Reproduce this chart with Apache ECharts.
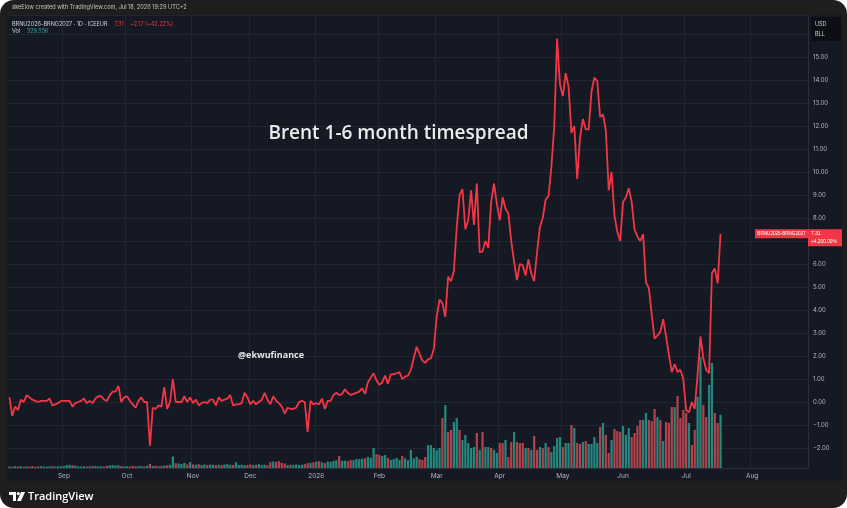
<!DOCTYPE html>
<html><head><meta charset="utf-8">
<script src="https://cdn.jsdelivr.net/npm/echarts@6/dist/echarts.min.js"></script>
<style>
html,body{margin:0;padding:0;background:#ffffff;}
#c{width:847px;height:508px;border-radius:14px;overflow:hidden;}
</style></head><body><div id="c"></div>
<script>
// ---- data ----
const symbolName = 'BRNU2026-BRNG2027';
const firstDate = '2025-08-05';
const paddingBars = 30;
const monthNames = ['2026','Feb','Mar','Apr','May','Jun','Jul','Aug','Sep','Oct','Nov','Dec'];

const spreadValues = [
0.2,-0.6,-0.2,-0.35,0.1,0,0.3,0.2,0.1,0.05,
0,0.05,0.05,0.05,0.15,-0.15,-0.1,-0.05,0.05,0.05,
0.05,0.05,-0.2,-0.05,0,0.05,0.15,-0.05,0.05,-0.05,
0.15,0.25,0.25,0.1,0.05,0.3,0.45,0.45,0.7,0,
0.2,0.25,0.05,-0.1,-0.25,0.05,0.2,0,0,-1.9,
-0.25,-0.3,-0.15,-0.2,0.65,-0.3,0,1.0,0,0,
0,0.25,0,0.2,-0.05,0.1,-0.15,-0.05,0,-0.05,
0.1,0.1,-0.15,0.2,0.05,0.1,0.15,0.3,-0.15,-0.1,
-0.1,-0.05,0.4,0.2,-0.1,0.05,-0.1,0,0.1,0.4,
0.1,-0.1,0.25,0.05,-0.05,-0.2,-0.5,-0.25,-0.3,-0.3,
-0.25,0,0.05,0,-1.3,0.05,-0.1,-0.05,-0.1,0.15,
-0.3,0.05,0.05,0.3,0.4,0.3,0.35,0.55,0.4,0.3,
0.35,0.4,0.45,0.6,0.35,0.85,1.05,1.25,0.95,0.75,
0.85,1.15,0.8,1.2,1.2,1.25,1.3,1.0,1.1,1.15,
1.4,1.9,2.4,2.1,1.8,1.7,1.85,1.9,2.3,3.7,
4.45,4.3,3.7,5.45,5.25,5.7,7.6,9.0,9.25,7.5,
7.9,9.2,7.7,9.5,6.5,6.55,7.0,6.7,8.7,9.5,
8.6,7.9,8.9,8.4,8.2,7.0,6.1,5.3,6.0,5.95,
5.5,6.2,5.6,5.25,6.5,7.6,8.0,8.8,8.95,10.2,
12.0,15.8,13.8,13.3,14.3,13.7,11.7,12.0,9.7,11.5,
12.3,11.85,11.85,13.5,14.1,13.95,12.4,12.5,11.8,9.2,
10.0,8.1,7.4,7.0,8.7,8.9,9.3,8.7,7.5,7.2,
7.0,7.3,5.2,4.95,3.8,2.75,2.9,3.05,3.6,2.85,
2.05,1.3,1.65,1.3,1.4,1.0,-0.35,-0.45,0,-0.3,
1.2,2.85,1.9,1.4,1.25,5.6,5.8,5.15,7.31
];

// volume in thousands
const volumeK = [
10,8,12,9,11,7,10,9,12,8,
10,11,9,8,10,12,9,11,10,12,
18,20,17,15,10,9,11,8,10,12,
12,10,11,9,14,16,18,15,17,12,
10,11,9,13,10,12,11,9,14,25,
12,14,10,13,15,16,20,72,30,28,
25,32,22,37,22,20,24,18,22,19,
21,20,18,20,18,22,24,20,19,36,
18,20,17,19,22,18,20,24,19,21,
18,36,40,38,42,32,28,18,20,19,
22,18,20,24,30,32,36,40,42,35,
30,40,38,44,48,74,44,46,42,50,
48,56,55,58,60,68,62,124,86,80,
74,80,62,50,55,62,50,75,60,48,
112,60,70,55,50,68,142,142,124,110,124,
310,390,223,236,285,310,236,174,205,155,
124,130,217,112,223,130,130,124,112,93,
155,155,174,68,161,223,161,155,155,124,
124,112,198,112,130,124,155,130,99,136,
186,192,130,155,155,266,248,155,149,161,
167,149,149,192,155,254,279,205,93,174,
242,229,223,260,205,248,192,217,260,298,
298,341,298,291,366,316,298,167,285,279,
378,378,446,310,360,341,279,143,236,440,
688,391,316,515,651,341,279,329.55
];

// bar direction (1 = up / teal, 0 = down / red), from index 151 on
const volUpStart = 151;
const volUpTail = [
0,1,0,0,1,1,0,1,1,1,
1,1,0,1,0,1,1,0,1,1,
0,0,1,0,0,1,0,0,0,1,
0,1,0,0,1,0,1,0,1,1,
1,1,0,1,1,0,1,0,0,1,
0,1,1,1,1,0,1,0,0,1,
0,0,0,1,1,1,0,0,0,0,
1,1,0,0,0,1,0,1,0,0,
0,1,0,0,0,0,1,0,0,1,
1,0,0,1,1,0,0,1
];

const lastChange = '+2.17';
const lastChangePct = '+42.22%';
const lastVolumeText = '329.55K';
const lastPctText = '+4,200.00%';

// ---- categories: trading days ----
const categories = [];
(function(){
  let t = Date.parse(firstDate + 'T00:00:00Z');
  const total = spreadValues.length + paddingBars;
  while (categories.length < total) {
    const d = new Date(t);
    const wd = d.getUTCDay();
    if (wd !== 0 && wd !== 6) categories.push(d.toISOString().slice(0,10));
    t += 86400000;
  }
})();
function isMonthStart(i){
  if (i === 0) return false;
  return categories[i].slice(5,7) !== categories[i-1].slice(5,7);
}
function monthLabel(v){
  return monthNames[parseInt(v.slice(5,7),10) - 1];
}

function volColor(i){
  let up;
  if (i >= volUpStart) up = volUpTail[i - volUpStart] === 1;
  else up = i === 0 ? true : spreadValues[i] >= spreadValues[i-1];
  return up ? '#24877e' : '#b0434b';
}

// ---- layout ----
const gridTop = 15, gridBottomY = 468, gridLeft = 8, gridRightX = 808;
const pxPerUnit = 23, zeroY = 402;
const yMax = (zeroY - gridTop) / pxPerUnit;
const yMin = (zeroY - gridBottomY) / pxPerUnit;
const volPerPx = 6.2;
const volMax = (gridBottomY - gridTop) * volPerPx;

const chart = echarts.init(document.getElementById('c'), null, {renderer:'canvas'});
const FONT = 'Inter, "Noto Sans", sans-serif';
const NARROW = '"Liberation Sans", Arial, sans-serif';

chart.setOption({
  backgroundColor: '#151924',
  animation: false,
  grid: {left: gridLeft, right: 847 - gridRightX, top: gridTop, bottom: 508 - gridBottomY, containLabel: false},
  xAxis: {
    type: 'category', data: categories, boundaryGap: true,
    axisLine: {show: true, onZero: false, lineStyle: {color: '#2a2e39'}},
    axisTick: {show: false},
    axisLabel: {
      interval: (i) => isMonthStart(i),
      formatter: (v) => monthLabel(v),
      color: '#b2b5be', fontSize: 6.5, fontFamily: FONT, margin: 5
    },
    splitLine: {show: true, interval: (i) => isMonthStart(i), lineStyle: {color: '#222632', width: 1}}
  },
  yAxis: [{
    type: 'value', position: 'right', min: yMin, max: yMax,
    splitNumber: 20, minInterval: 1, maxInterval: 1,
    axisLine: {show: true, lineStyle: {color: '#2a2e39'}},
    axisTick: {show: false},
    splitLine: {show: true, lineStyle: {color: '#222632', width: 1}},
    axisLabel: {
      color: '#b2b5be', fontSize: 6, fontFamily: FONT, margin: 5,
      formatter: (v) => {
        const r = Math.round(v);
        if (Math.abs(v - r) > 1e-6 || r >= 16) return '';
        return r < 0 ? '\u2212' + Math.abs(r).toFixed(2) : r.toFixed(2);
      }
    }
  }, {
    type: 'value', min: 0, max: volMax, show: false, splitLine: {show: false}
  }],
  series: [{
    type: 'bar', name: 'Vol', yAxisIndex: 1, data: volumeK,
    barCategoryGap: '22%',
    itemStyle: {color: (p) => volColor(p.dataIndex)},
    z: 1, silent: true
  }, {
    type: 'line', name: symbolName, data: spreadValues,
    showSymbol: false, symbol: 'none',
    lineStyle: {color: '#f23645', width: 1.8},
    z: 3, silent: true
  }]
});

const lastIdx = spreadValues.length - 1;
const lastVal = spreadValues[lastIdx];
const py = chart.convertToPixel({yAxisIndex: 0}, lastVal);

chart.setOption({
  graphic: [
    // outer frame
    {type:'rect', z:100, shape:{x:0,y:0,width:847,height:15}, style:{fill:'#1e1e1e'}},
    {type:'rect', z:100, shape:{x:0,y:0,width:7,height:508}, style:{fill:'#1e1e1e'}},
    {type:'rect', z:100, shape:{x:842,y:0,width:5,height:508}, style:{fill:'#1e1e1e'}},
    {type:'rect', z:100, shape:{x:0,y:481,width:847,height:27}, style:{fill:'#1e1e1e'}},
    {type:'text', z:101, x:12, y:7.5, style:{text:'akeElow created with TradingView.com, Jul 18, 2026 19:29 UTC+2', fill:'#c4c4c4', font:'5.6px ' + FONT, verticalAlign:'middle'}},
    // legend
    {type:'text', z:101, x:12, y:24, style:{
      text:'{a|' + symbolName + ' \u00b7 1D \u00b7 ICEEUR}  {r|' + lastVal.toFixed(2) + '}  {r|' + lastChange + ' (' + lastChangePct + ')}',
      verticalAlign:'middle',
      rich:{a:{fill:'#d1d4dc', font:'5.5px ' + FONT}, r:{fill:'#f23645', font:'5.5px ' + FONT}}
    }},
    {type:'text', z:101, x:12, y:31.5, style:{
      text:'{a|Vol}  {t|' + lastVolumeText + '}', verticalAlign:'middle',
      rich:{a:{fill:'#d1d4dc', font:'5.5px ' + FONT}, t:{fill:'#26a69a', font:'5.5px ' + FONT}}
    }},
    // currency box
    {type:'rect', z:101, shape:{x:811,y:17,width:30,height:24}, style:{fill:'#0c0e13'}},
    {type:'text', z:102, x:815, y:24, style:{text:'USD', fill:'#d1d4dc', font:'5.5px ' + FONT, verticalAlign:'middle'}},
    {type:'text', z:102, x:815, y:34, style:{text:'BLL', fill:'#d1d4dc', font:'5.5px ' + FONT, verticalAlign:'middle'}},
    // last price labels
    {type:'rect', z:50, shape:{x:755,y:py-4.5,width:53,height:9}, style:{fill:'#f23645'}},
    {type:'text', z:51, x:781.5, y:py, style:{text:symbolName, fill:'#ffffff', font:'4.6px ' + NARROW, align:'center', verticalAlign:'middle'}},
    {type:'rect', z:50, shape:{x:808,y:py-4.5,width:34,height:17}, style:{fill:'#f23645'}},
    {type:'text', z:51, x:811, y:py, style:{text:lastVal.toFixed(2), fill:'#ffffff', font:'5px ' + NARROW, verticalAlign:'middle'}},
    {type:'text', z:51, x:811, y:py+8, style:{text:lastPctText, fill:'#ffffff', font:'4.8px ' + NARROW, verticalAlign:'middle'}},
    // annotations
    {type:'text', z:60, x:398.5, y:134, style:{text:'Brent 1-6 month timespread', fill:'#ebebeb', font:'600 19px "Open Sans", sans-serif', align:'center', verticalAlign:'middle'}},
    {type:'text', z:60, x:238, y:355, style:{text:'@ekwufinance', fill:'#e6e6e6', font:'700 9px "Open Sans", sans-serif', verticalAlign:'middle'}},
    // footer logo
    {type:'polygon', z:101, shape:{points:[[9,492],[16,492],[16,501],[13,501],[13,495],[9,495]]}, style:{fill:'#ffffff'}},
    {type:'circle', z:101, shape:{cx:18.3,cy:493.6,r:1.6}, style:{fill:'#ffffff'}},
    {type:'polygon', z:101, shape:{points:[[21,492],[25,492],[21,501],[17,501]]}, style:{fill:'#ffffff'}},
    {type:'text', z:101, x:28, y:497, style:{text:'TradingView', fill:'#ffffff', font:'600 11px "Open Sans", sans-serif', verticalAlign:'middle'}}
  ]
});
</script></body></html>
